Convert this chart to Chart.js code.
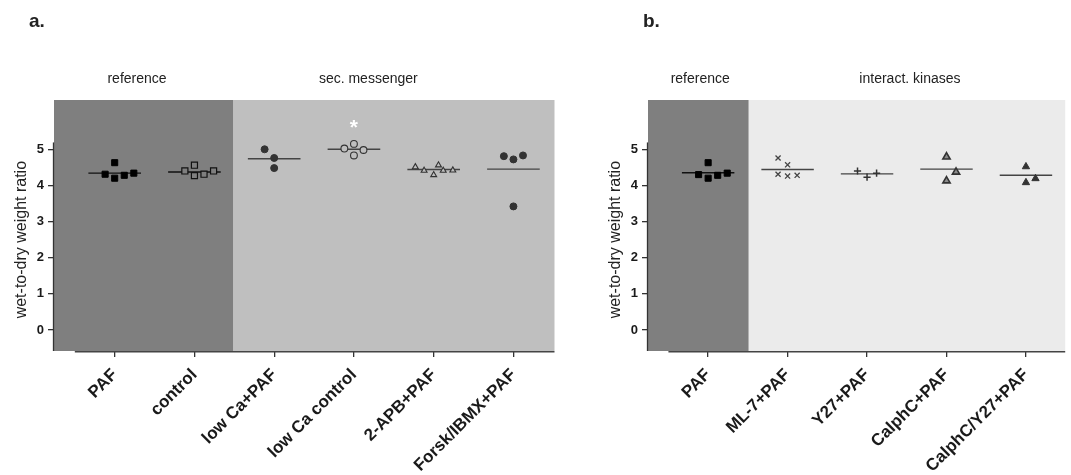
<!DOCTYPE html>
<html><head><meta charset="utf-8">
<script src="https://cdn.jsdelivr.net/npm/chart.js@4.4.1/dist/chart.umd.min.js"></script>
<style>
html,body{margin:0;padding:0;background:#fff;}
#wrap{position:relative;width:1071px;height:475px;overflow:hidden;}
#ca{position:absolute;left:0;top:0;}
#cb{position:absolute;left:560px;top:0;}
</style></head><body>
<div id="wrap"><canvas id="ca" width="560" height="475"></canvas><canvas id="cb" width="511" height="475"></canvas></div>
<script>
// ---------- data ----------
const catsA = ['PAF', 'control', 'low Ca+PAF', 'low Ca control', '2-APB+PAF', 'Forsk/IBMX+PAF'];
const valuesA = [
  [4.63, 4.31, 4.20, 4.28, 4.34],
  [4.40, 4.56, 4.27, 4.31, 4.40],
  [5.00, 4.76, 4.48],
  [5.02, 5.15, 4.83, 4.98],
  [4.51, 4.41, 4.29, 4.56, 4.41, 4.42],
  [4.81, 4.72, 4.83, 3.42]
];
const jitterA = [
  [0, -0.12, 0, 0.12, 0.24],
  [-0.12, 0, 0, 0.12, 0.24],
  [-0.12, 0, 0],
  [-0.12, 0, 0, 0.12],
  [-0.23, -0.12, 0, 0.06, 0.12, 0.24],
  [-0.12, 0, 0.12, 0]
];
const meansA = [4.34, 4.37, 4.74, 5.00, 4.44, 4.45];
const groupsA = ['reference', 'sec. messenger'];
const sigA = [{ cat: 3, y: 5.76, text: '*' }];

const catsB = ['PAF', 'ML-7+PAF', 'Y27+PAF', 'CalphC+PAF', 'CalphC/Y27+PAF'];
const valuesB = [
  [4.63, 4.30, 4.20, 4.28, 4.34],
  [4.76, 4.57, 4.31, 4.26, 4.28],
  [4.40, 4.23, 4.34],
  [4.79, 4.13, 4.37],
  [4.52, 4.08, 4.19]
];
const jitterB = [
  [0, -0.12, 0, 0.12, 0.24],
  [-0.12, 0, -0.12, 0, 0.12],
  [-0.12, 0, 0.12],
  [0, 0, 0.12],
  [0, 0, 0.12]
];
const meansB = [4.35, 4.44, 4.32, 4.45, 4.28];
const groupsB = ['reference', 'interact. kinases'];

const yTicks = [0, 1, 2, 3, 4, 5];
const yTitle = 'wet-to-dry weight ratio';

// ---------- styles ----------
const FONT = '"Liberation Sans", Arial, Helvetica, sans-serif';
const DARK = '#7f7f7f', LIGHT_A = '#bfbfbf', LIGHT_B = '#ebebeb';

const stylesA = [
  { pointStyle: 'rect', r: 4.3, bg: '#000', bc: '#000', bw: 1 },
  { pointStyle: 'rect', r: 4.3, bg: DARK, bc: '#111', bw: 1.2 },
  { pointStyle: 'circle', r: 3.5, bg: '#333', bc: '#333', bw: 1 },
  { pointStyle: 'circle', r: 3.4, bg: LIGHT_A, bc: '#333', bw: 1.1 },
  { pointStyle: 'triangle', r: 3.4, bg: LIGHT_A, bc: '#333', bw: 1.1 },
  { pointStyle: 'circle', r: 3.5, bg: '#333', bc: '#333', bw: 1 }
];
const lineColA = ['#111', '#111', '#444', '#444', '#444', '#444'];
const stylesB = [
  { pointStyle: 'rect', r: 4.3, bg: '#000', bc: '#000', bw: 1 },
  { pointStyle: 'crossRot', r: 3.6, bg: '#444', bc: '#444', bw: 1.3 },
  { pointStyle: 'cross', r: 3.6, bg: '#333', bc: '#333', bw: 1.5 },
  { pointStyle: 'triangle', r: 4.2, bg: '#8c8c8c', bc: '#333', bw: 1.6 },
  { pointStyle: 'triangle', r: 4.2, bg: '#333', bc: '#333', bw: 1 }
];
const lineColB = ['#111', '#444', '#444', '#444', '#444'];

function makeChart(id, cfg) {
  const datasets = [];
  cfg.values.forEach((vals, i) => {
    const st = cfg.styles[i];
    datasets.push({
      type: 'scatter', order: 1,
      data: vals.map((v, k) => ({ x: i + cfg.jitter[i][k], y: v })),
      pointStyle: st.pointStyle, pointRadius: st.r,
      backgroundColor: st.bg, borderColor: st.bc, borderWidth: st.bw
    });
    datasets.push({
      type: 'scatter', order: 2, showLine: true,
      data: [{ x: i - 0.33, y: cfg.means[i] }, { x: i + 0.33, y: cfg.means[i] }],
      pointRadius: 0, borderColor: cfg.lineCol[i], borderWidth: 1.4
    });
  });

  const deco = {
    id: 'deco' + id,
    beforeDraw(chart) {
      const { ctx, chartArea: a, scales: { x } } = chart;
      const split = x.getPixelForValue(cfg.split);
      ctx.save();
      ctx.fillStyle = DARK;
      ctx.fillRect(a.left, a.top, split - a.left, a.bottom - a.top);
      ctx.fillStyle = cfg.light;
      ctx.fillRect(split, a.top, a.right - split, a.bottom - a.top);
      ctx.restore();
    },
    afterDraw(chart) {
      const { ctx, chartArea: a, scales: { x, y } } = chart;
      ctx.save();
      // y axis line
      ctx.strokeStyle = '#333'; ctx.lineWidth = 1.3;
      ctx.beginPath();
      ctx.moveTo(a.left - 0.5, y.getPixelForValue(5.19));
      ctx.lineTo(a.left - 0.5, a.bottom);
      ctx.stroke();
      // x axis line
      ctx.strokeStyle = '#444'; ctx.lineWidth = 1.5;
      ctx.beginPath();
      ctx.moveTo(x.getPixelForValue(-0.5), a.bottom + 0.8);
      ctx.lineTo(a.right, a.bottom + 0.8);
      ctx.stroke();
      // y title
      ctx.fillStyle = '#222';
      ctx.font = '16px ' + FONT;
      ctx.textAlign = 'center'; ctx.textBaseline = 'middle';
      ctx.translate(a.left - 32, y.getPixelForValue(2.5));
      ctx.rotate(-Math.PI / 2);
      ctx.fillText(yTitle, 0, 0);
      ctx.restore();
      ctx.save();
      // group headers
      ctx.fillStyle = '#222';
      ctx.font = '14px ' + FONT;
      ctx.textAlign = 'center'; ctx.textBaseline = 'alphabetic';
      cfg.groups.forEach((g, i) => ctx.fillText(g, x.getPixelForValue(cfg.groupPos[i]), 83));
      // panel letter
      ctx.font = 'bold 19px ' + FONT;
      ctx.textAlign = 'left';
      ctx.fillText(cfg.letter, cfg.letterX, 27);
      // significance
      (cfg.sig || []).forEach(s => {
        ctx.fillStyle = '#fff';
        ctx.font = 'bold 21px ' + FONT;
        ctx.textAlign = 'center';
        ctx.fillText(s.text, x.getPixelForValue(s.cat), y.getPixelForValue(s.y) + 12);
      });
      ctx.restore();
    }
  };

  return new Chart(document.getElementById(id), {
    type: 'scatter',
    data: { datasets },
    plugins: [deco],
    options: {
      responsive: false, animation: false, devicePixelRatio: 1,
      layout: { padding: { left: 0, right: cfg.padRight, top: 100, bottom: 0 } },
      plugins: { legend: { display: false }, tooltip: { enabled: false } },
      scales: {
        x: {
          type: 'linear', position: 'bottom', min: cfg.xmin, max: cfg.xmax,
          afterBuildTicks: s => { s.ticks = cfg.cats.map((c, i) => ({ value: i })); },
          afterFit: s => { s.height = 124; },
          grid: { display: true, drawOnChartArea: false, drawTicks: true, tickLength: 6, color: '#333', lineWidth: 1.3 },
          border: { display: false },
          ticks: {
            autoSkip: false, minRotation: 45, maxRotation: 45, padding: 8,
            color: '#1a1a1a', font: { family: FONT, size: 17, weight: 'bold' },
            callback: v => cfg.cats[v]
          }
        },
        y: {
          type: 'linear', min: -0.581, max: 6.364,
          afterBuildTicks: s => { s.ticks = yTicks.map(v => ({ value: v })); },
          afterFit: s => { s.width = cfg.yWidth; },
          grid: { display: true, drawOnChartArea: false, drawTicks: true, tickLength: 6, color: '#333', lineWidth: 1.3 },
          border: { display: false },
          ticks: { padding: 4, color: '#1a1a1a', font: { family: FONT, size: 13, weight: 'bold' } }
        }
      }
    }
  });
}

makeChart('ca', {
  cats: catsA, values: valuesA, jitter: jitterA, means: meansA, styles: stylesA, lineCol: lineColA,
  light: LIGHT_A, split: 1.49, xmin: -0.761, xmax: 5.515, padRight: 3, yWidth: 54,
  groups: groupsA, groupPos: [0.28, 3.18], letter: 'a.', letterX: 29, sig: sigA
});
makeChart('cb', {
  cats: catsB, values: valuesB, jitter: jitterB, means: meansB, styles: stylesB, lineCol: lineColB,
  light: LIGHT_B, split: 0.511, xmin: -0.757, xmax: 4.494, padRight: 5, yWidth: 88,
  groups: groupsB, groupPos: [-0.10, 2.54], letter: 'b.', letterX: 83
});
</script>
</body></html>
